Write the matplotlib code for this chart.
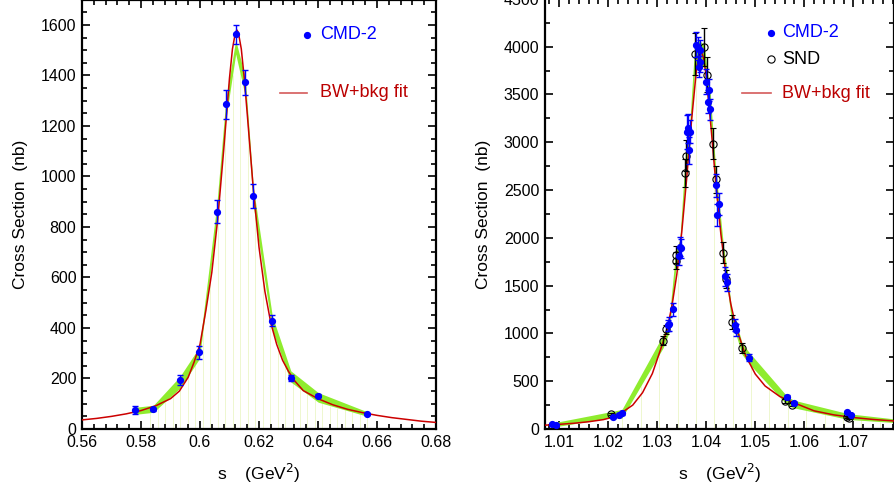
import numpy as np
import matplotlib
matplotlib.use("Agg")
import matplotlib.pyplot as plt
from matplotlib.ticker import MultipleLocator

plt.rcParams['font.family'] = ['Liberation Sans', 'DejaVu Sans']

# ---- left panel (s ~ 0.56 .. 0.68) ----
cmd2_l_s = [0.5780, 0.5842, 0.5932, 0.5998, 0.6057, 0.6088, 0.6121, 0.6153,
            0.6181, 0.6245, 0.6308, 0.6401, 0.6565]
cmd2_l_sig = [75, 78, 194, 304, 861, 1286, 1563, 1373, 924, 429, 203, 132, 59]
cmd2_l_err = [15, 6, 18, 25, 45, 57, 37, 50, 47, 22, 12, 6, 4]

band_l_lo = [58, 66, 162, 278, 820, 1230, 1485, 1320, 880, 392, 186, 106, 51]
band_l_hi = [86, 94, 208, 325, 890, 1310, 1540, 1395, 955, 448, 230, 144, 69]

fit_l_s = [0.560, 0.565, 0.570, 0.575, 0.580, 0.585, 0.590, 0.593, 0.596, 0.598,
           0.600, 0.602, 0.604, 0.606, 0.608, 0.610, 0.611, 0.612, 0.6125, 0.613,
           0.614, 0.615, 0.616, 0.618, 0.620, 0.622, 0.624, 0.626, 0.628, 0.630,
           0.632, 0.635, 0.640, 0.645, 0.650, 0.655, 0.660, 0.665, 0.670, 0.675, 0.680]
fit_l_sig = [36, 42, 50, 60, 73, 92, 120, 150, 205, 265,
             335, 470, 620, 830, 1100, 1390, 1505, 1570, 1580, 1570,
             1505, 1390, 1250, 960, 720, 545, 420, 335, 272, 228,
             192, 152, 120, 96, 78, 65, 54, 45, 38, 31, 26]

# ---- right panel (s ~ 1.007 .. 1.078) ----
cmd2_r_s = [1.0085, 1.0093, 1.0209, 1.0222, 1.0228, 1.0322, 1.0324, 1.0332,
            1.0344, 1.0346, 1.0349, 1.0361, 1.0363, 1.0365, 1.0367, 1.0380,
            1.0384, 1.0386, 1.0387, 1.0388, 1.0399, 1.0404, 1.0406, 1.0408,
            1.0420, 1.0422, 1.0425, 1.0438, 1.0443, 1.0459, 1.0461, 1.0487,
            1.0564, 1.0578, 1.0687, 1.0695]
cmd2_r_sig = [50, 40, 129, 150, 164, 1085, 1099, 1252,
              1810, 1905, 1890, 3110, 3146, 2915, 3110, 4020,
              3985, 3790, 3965, 3843, 3634, 3424, 3547, 3345,
              2550, 2239, 2354, 1600, 1535, 1088, 1036, 748,
              331, 269, 176, 146]
cmd2_r_err = [15, 12, 12, 15, 15, 60, 70, 70,
              90, 100, 100, 180, 150, 140, 120, 130,
              120, 110, 110, 110, 130, 120, 120, 110,
              120, 110, 120, 100, 90, 60, 60, 40,
              20, 15, 12, 12]

snd_r_s = [1.0206, 1.0312, 1.0318, 1.0338, 1.0339, 1.0356, 1.0358, 1.0376,
           1.0396, 1.0401, 1.0414, 1.0419, 1.0435, 1.0440, 1.0453, 1.0473,
           1.0561, 1.0574, 1.0688, 1.0692]
snd_r_sig = [157, 924, 1043, 1761, 1825, 2680, 2859, 3923,
             4000, 3707, 2985, 2614, 1845, 1570, 1118, 848,
             295, 255, 129, 118]
snd_r_err = [15, 50, 50, 90, 90, 150, 160, 220,
             200, 180, 160, 140, 110, 90, 70, 50,
             20, 15, 12, 12]

band_r_s = [1.0085, 1.0206, 1.0228, 1.0312, 1.0324, 1.0338, 1.0346, 1.0358,
            1.0366, 1.0376, 1.0384, 1.0396, 1.0401, 1.0408, 1.0414, 1.0420,
            1.0425, 1.0435, 1.0443, 1.0453, 1.0461, 1.0473, 1.0487, 1.0564,
            1.0578, 1.0690, 1.0783]
band_r_lo = [18, 118, 115, 850, 1010, 1680, 1830, 2660, 2920, 3720, 3820, 3780,
             3520, 3270, 2870, 2420, 2220, 1750, 1480, 1060, 980, 780, 685, 255,
             222, 100, 68]
band_r_hi = [62, 182, 205, 985, 1140, 1880, 1975, 2930, 3180, 3980, 4070, 4020,
             3780, 3530, 3080, 2680, 2430, 1920, 1640, 1190, 1120, 900, 805, 348,
             302, 160, 106]

fit_r_s = [1.0071, 1.010, 1.013, 1.016, 1.019, 1.021, 1.023, 1.025, 1.027, 1.029,
           1.030, 1.031, 1.032, 1.033, 1.034, 1.035, 1.036, 1.037, 1.038, 1.0385,
           1.039, 1.0395, 1.040, 1.041, 1.042, 1.043, 1.044, 1.045, 1.046, 1.048,
           1.050, 1.052, 1.055, 1.058, 1.062, 1.066, 1.070, 1.074, 1.0783]
fit_r_sig = [40, 49, 60, 76, 98, 125, 180, 250, 380, 580,
             730, 880, 1040, 1290, 1620, 2060, 2620, 3230, 3760, 3900,
             3950, 3870, 3690, 3140, 2540, 2030, 1620, 1310, 1080, 770,
             575, 450, 340, 272, 190, 148, 120, 100, 84]

GREEN = '#8fec2e'
PALE = '#eef7cf'
RED = '#cc0000'
BLUE = '#0000ff'


def style_axes(ax, xmaj, xmin, ymaj, ymin):
    ax.xaxis.set_major_locator(MultipleLocator(xmaj))
    ax.xaxis.set_minor_locator(MultipleLocator(xmin))
    ax.yaxis.set_major_locator(MultipleLocator(ymaj))
    ax.yaxis.set_minor_locator(MultipleLocator(ymin))
    ax.tick_params(which='both', direction='in', top=True, right=True,
                   labelsize=11.5, width=1.2, colors='black')
    ax.tick_params(which='major', length=6, pad=4)
    ax.tick_params(which='minor', length=3.5)
    for sp in ax.spines.values():
        sp.set_linewidth(1.6)
    ax.set_xlabel('s    (GeV$^2$)', fontsize=12.5, labelpad=9)
    ax.set_ylabel('Cross Section  (nb)', fontsize=12.5, labelpad=9)


def draw_band(ax, bx, lo, hi, start, stop, step):
    xs = np.arange(start, stop, step)
    tops = np.interp(xs, bx, lo)
    ax.vlines(xs, 0, tops, colors=PALE, lw=0.7, zorder=1)
    ax.fill_between(bx, lo, hi, color=GREEN, lw=0, zorder=2)


fig = plt.figure(figsize=(8.95, 4.9), dpi=100)
axl = fig.add_axes([82 / 895, 61 / 490, 354 / 895, 429.3 / 490])
axr = fig.add_axes([545 / 895, 61 / 490, 349 / 895, 430.1 / 490])

# left panel
draw_band(axl, cmd2_l_s, band_l_lo, band_l_hi, 0.5831, 0.657, 0.00254)
axl.plot(fit_l_s, fit_l_sig, color=RED, lw=1.1, zorder=3)
axl.errorbar(cmd2_l_s, cmd2_l_sig, yerr=cmd2_l_err, fmt='o', ms=4.2,
             color=BLUE, ecolor=BLUE, elinewidth=1, capsize=2.5, capthick=1,
             zorder=4)
axl.set_xlim(0.56, 0.68)
axl.set_ylim(0, 1700)
style_axes(axl, 0.02, 0.004, 200, 50)
axl.xaxis.set_major_formatter(plt.FuncFormatter(lambda v, p: ('%g' % v)))

axl.plot([0.636], [0.918], 'o', ms=4.2, color=BLUE, transform=axl.transAxes,
         clip_on=False)
axl.text(0.672, 0.918, 'CMD-2', color=BLUE, fontsize=13, va='center',
         transform=axl.transAxes)
axl.plot([0.559, 0.636], [0.783, 0.783], color='#d45a5a', lw=1.2,
         transform=axl.transAxes)
axl.text(0.672, 0.783, 'BW+bkg fit', color='#bb0000', fontsize=13,
         va='center', transform=axl.transAxes)

# right panel
draw_band(axr, band_r_s, band_r_lo, band_r_hi, 1.0229, 1.078, 0.00375)
axr.plot(fit_r_s, fit_r_sig, color=RED, lw=1.1, zorder=3)
axr.errorbar(snd_r_s, snd_r_sig, yerr=snd_r_err, fmt='o', ms=5.2,
             mfc='none', mec='black', mew=0.8, color='black', ecolor='black',
             elinewidth=1, capsize=2.5, capthick=1, zorder=4)
axr.errorbar(cmd2_r_s, cmd2_r_sig, yerr=cmd2_r_err, fmt='o', ms=4.2,
             color=BLUE, ecolor=BLUE, elinewidth=1, capsize=2.5, capthick=1,
             zorder=5)
axr.set_xlim(1.0071, 1.0783)
axr.set_ylim(0, 4500)
style_axes(axr, 0.01, 0.002, 500, 250)
axr.xaxis.set_major_formatter(plt.FuncFormatter(lambda v, p: ('%.2f' % v)))

axr.plot([0.6476], [0.921], 'o', ms=4.2, color=BLUE, transform=axr.transAxes)
axr.text(0.679, 0.921, 'CMD-2', color=BLUE, fontsize=13, va='center',
         transform=axr.transAxes)
axr.plot([0.6476], [0.860], 'o', ms=5.2, mfc='none', mec='black', mew=0.8,
         transform=axr.transAxes)
axr.text(0.679, 0.860, 'SND', color='black', fontsize=13, va='center',
         transform=axr.transAxes)
axr.plot([0.5645, 0.6476], [0.781, 0.781], color='#d45a5a', lw=1.2,
         transform=axr.transAxes)
axr.text(0.679, 0.781, 'BW+bkg fit', color='#bb0000', fontsize=13,
         va='center', transform=axr.transAxes)

fig.savefig('out.png', dpi=100)
